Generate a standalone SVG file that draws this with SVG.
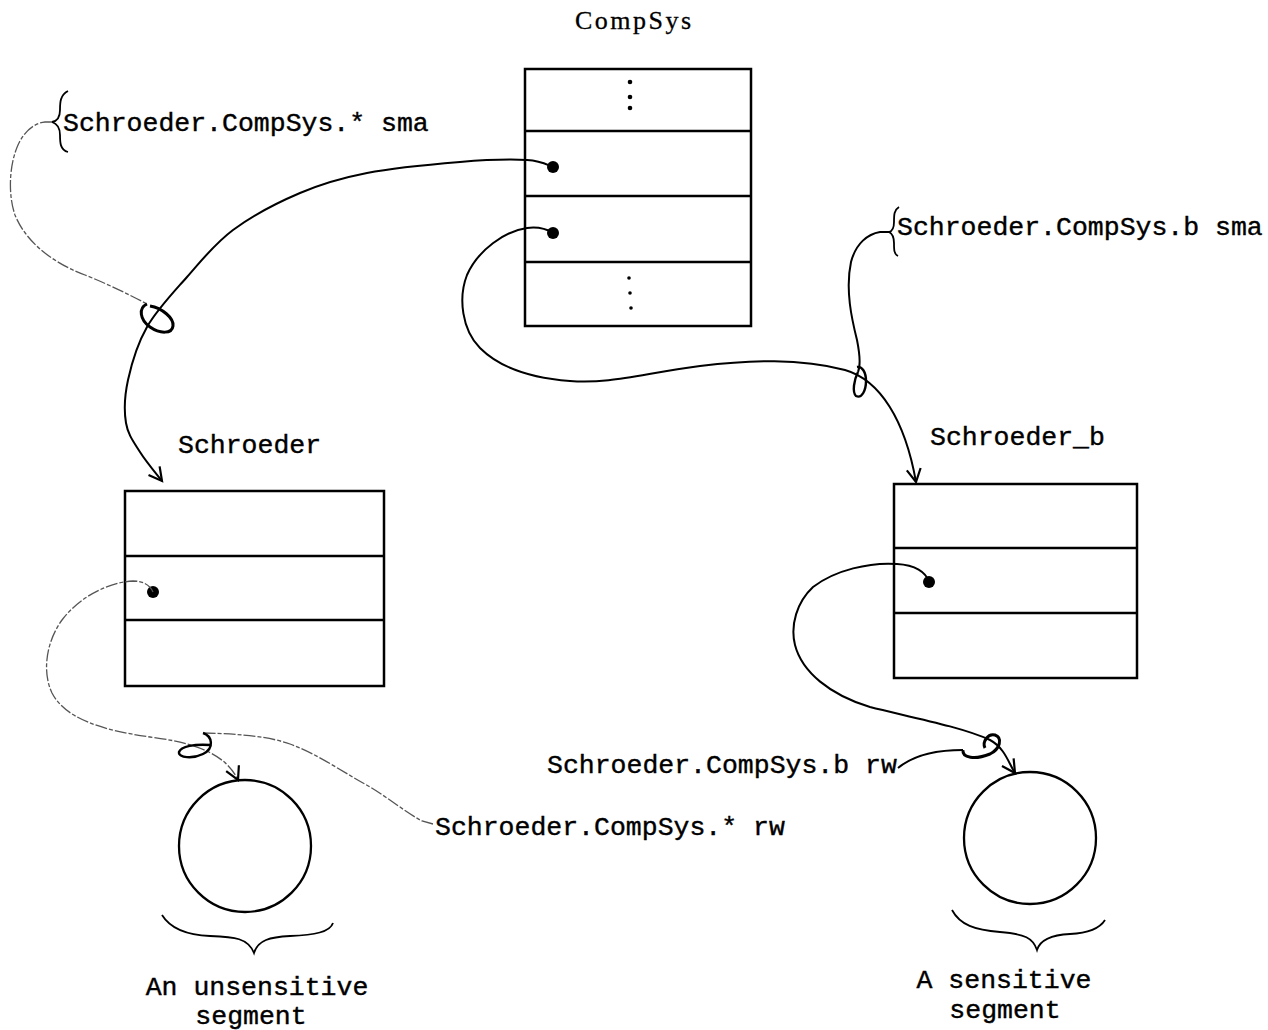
<svg xmlns="http://www.w3.org/2000/svg" width="1268" height="1030" viewBox="0 0 1268 1030">
  <style>
    .box { fill: none; stroke: #000; stroke-width: 2.5; }
    .row { stroke: #000; stroke-width: 2.5; }
    .ptr { fill: #000; }
    .tw { font-family: "Liberation Mono", "Courier New", monospace; font-size: 26.5px; fill: #000; stroke: #000; stroke-width: 0.4; }
    .title { font-family: "Liberation Serif", "Times New Roman", serif; font-size: 26px; letter-spacing: 2.5px; fill: #000; stroke: #000; stroke-width: 0.3; }
    .link { fill: none; stroke: #000; stroke-width: 2; }
    .faint { fill: none; stroke: #555; stroke-width: 1.3; stroke-dasharray: 12 2 4 2; }
    .loop { fill: none; stroke: #000; stroke-width: 3; }
    .brace { fill: none; stroke: #000; stroke-width: 1.8; }
    .seg { fill: none; stroke: #000; stroke-width: 2.3; }
  </style>
  <defs>
    <marker id="arrow" viewBox="-16 -10 20 20" refX="0" refY="0" markerWidth="20" markerHeight="20" markerUnits="userSpaceOnUse" orient="auto">
      <path d="M-13,-7 L0,0 L-13,7" fill="none" stroke="#000" stroke-width="2.2"/>
    </marker>
  </defs>

  <rect width="1268" height="1030" fill="#fff"/>

  <!-- CompSys directory -->
  <g id="node-compsys">
    <text class="title" x="575" y="29">CompSys</text>
    <rect class="box" x="525" y="69" width="226" height="257"/>
    <line class="row" x1="525" y1="131" x2="751" y2="131"/>
    <line class="row" x1="525" y1="196" x2="751" y2="196"/>
    <line class="row" x1="525" y1="262" x2="751" y2="262"/>
    <circle class="ptr" cx="630" cy="82" r="2.3"/>
    <circle class="ptr" cx="630" cy="97" r="2.3"/>
    <circle class="ptr" cx="630" cy="108" r="2.3"/>
    <circle class="ptr" cx="629" cy="278" r="1.8"/>
    <circle class="ptr" cx="630" cy="293" r="1.8"/>
    <circle class="ptr" cx="631" cy="308" r="1.8"/>
    <circle class="ptr" cx="553" cy="167" r="6"/>
    <circle class="ptr" cx="553" cy="233" r="6"/>
  </g>

  <!-- Schroeder directory -->
  <g id="node-schroeder">
    <text class="tw" x="178" y="453">Schroeder</text>
    <rect class="box" x="125" y="491" width="259" height="195"/>
    <line class="row" x1="125" y1="556" x2="384" y2="556"/>
    <line class="row" x1="125" y1="620" x2="384" y2="620"/>
    <circle class="ptr" cx="153" cy="592" r="6"/>
  </g>

  <!-- Schroeder_b directory -->
  <g id="node-schroeder-b">
    <text class="tw" x="930" y="445">Schroeder_b</text>
    <rect class="box" x="894" y="484" width="243" height="194"/>
    <line class="row" x1="894" y1="548" x2="1137" y2="548"/>
    <line class="row" x1="894" y1="613" x2="1137" y2="613"/>
    <circle class="ptr" cx="929" cy="582" r="6"/>
  </g>

  <!-- unsensitive segment -->
  <g id="node-seg-unsensitive">
    <circle class="seg" cx="245" cy="846" r="66"/>
    <path class="brace" d="M162,915 C170,928 185,935 210,936 C235,937 248,938 254,953 C258,940 270,937 290,936 C315,935 330,932 333,923"/>
    <text class="tw" x="257" y="995" text-anchor="middle">An unsensitive</text>
    <text class="tw" x="251" y="1024" text-anchor="middle">segment</text>
  </g>

  <!-- sensitive segment -->
  <g id="node-seg-sensitive">
    <circle class="seg" cx="1030" cy="838" r="66"/>
    <path class="brace" d="M952,910 C960,925 975,930 1000,932 C1025,934 1033,938 1037,950 C1040,940 1050,935 1070,934 C1090,933 1100,928 1105,920"/>
    <text class="tw" x="1004" y="988" text-anchor="middle">A sensitive</text>
    <text class="tw" x="1005" y="1018" text-anchor="middle">segment</text>
  </g>

  <!-- access labels -->
  <g id="acl-labels">
    <path class="brace" d="M68,91 C60,95 60,103 60,110 C60,117 58,121 52,122 C58,124 60,128 60,135 C60,142 60,150 68,152"/>
    <text class="tw" x="63" y="131">Schroeder.CompSys.* sma</text>
    <path class="brace" d="M899,207 C894,210 894,215 894,222 C894,228 893,231 889,232 C893,234 894,237 894,243 C894,250 894,254 898,256"/>
    <text class="tw" x="897" y="235">Schroeder.CompSys.b sma</text>
    <text class="tw" x="547" y="773">Schroeder.CompSys.b rw</text>
    <text class="tw" x="435" y="835">Schroeder.CompSys.* rw</text>
  </g>

  <!-- connectors -->
  <g id="connectors">
    <!-- CompSys entry to Schroeder -->
    <path class="link" marker-end="url(#arrow)" d="M553,167 C548.7,165.8 542.5,160.8 527,160 C511.5,159.2 486.7,159.8 460,162 C433.3,164.2 393.7,167.8 367,173 C340.3,178.2 322.3,183.5 300,193 C277.7,202.5 251.8,216 233,230 C214.2,244 201.3,260.8 187,277 C172.7,293.2 156.8,309.8 147,327 C137.2,344.2 131.5,364 128,380 C124.5,396 124,411 126,423 C128,435 134,442.3 140,452 C146,461.7 158.3,476.2 162,481"/>
    <!-- CompSys entry to Schroeder_b -->
    <path class="link" marker-end="url(#arrow)" d="M553,233 C545,228 535,227 527,228 C505,231 478,250 467,275 C458,298 462,330 480,348 C500,368 530,378 570,381 C610,384 640,374 700,366 C750,360 800,358 845,370 C880,380 905,420 916,482"/>
    <!-- Schroeder entry to unsensitive segment -->
    <path class="faint" marker-end="url(#arrow)" d="M153,592 C150,585 143,581 133,581 C110,582 80,596 62,620 C46,642 42,672 52,693 C65,718 100,730 150,737 C190,742 225,752 238,780"/>
    <!-- Schroeder_b entry to sensitive segment -->
    <path class="link" marker-end="url(#arrow)" d="M929,582 C926,572 915,565 897,564 C870,562 835,570 813,587 C797,602 790,625 795,645 C802,672 830,695 870,707 C910,717 962,727 990,740 C1005,748 1009,764 1015,773"/>

    <!-- label ties looped round the links -->
    <path class="faint" d="M52,122 L45,122 C35,123 25,130 18,145 C9,165 8,195 15,215 C25,240 50,262 85,275 C110,285 130,295 147,304"/>
    <path class="loop" d="M147,304 C138,308 140,320 150,327 C160,334 172,334 173,326 C174,318 162,308 150,306"/>

    <path class="link" d="M889,232 L880,232 C868,234 856,243 851,262 C845,290 852,320 857,340 C860,355 861,365 858,372"/>
    <path class="loop" style="stroke-width:2.4" d="M858,372 C854,380 852,392 856,396 C862,399 866,390 866,381 C866,372 862,366 857,367"/>

    <path class="faint" d="M433,824 L422,821 C405,812 385,795 363,783 C340,770 315,753 290,744 C270,737 245,734 203,733"/>
    <path class="loop" style="stroke-width:2.4" d="M203,733 C212,736 215,748 203,754 C193,759 178,758 179,752 C181,746 195,744 210,745"/>

    <path class="link" d="M898,768 C910,758 930,750 963,750"/>
    <path class="loop" d="M963,750 C962,758 975,760 990,754 C1000,749 1003,738 995,735 C988,733 982,742 985,748"/>
  </g>
</svg>
